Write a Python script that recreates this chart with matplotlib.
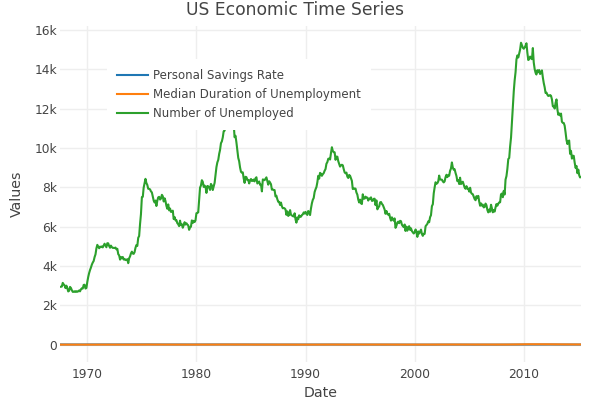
import numpy as np
import pandas as pd
import matplotlib
matplotlib.use("Agg")
import matplotlib.pyplot as plt
from matplotlib.ticker import FuncFormatter, FixedLocator
import matplotlib.dates as mdates

plt.rcParams['font.family'] = ['DejaVu Sans']

# ---------------- data ----------------
unemploy = [
    2944, 2945, 2958, 3143, 3066, 3018,
    2878, 3001, 2877, 2709, 2740, 2938, 2883, 2768, 2686, 2689, 2715, 2685,
    2718, 2692, 2712, 2758, 2713, 2816, 2868, 2856, 3040, 3049, 2856, 2884,
    3201, 3453, 3635, 3797, 3919, 4071, 4175, 4256, 4456, 4591, 4898, 5076,
    4986, 4903, 4987, 4959, 4996, 4949, 5035, 5134, 5042, 4954, 5161, 5154,
    5019, 4928, 5038, 4959, 4922, 4923, 4913, 4939, 4849, 4875, 4602, 4543,
    4326, 4452, 4394, 4459, 4329, 4363, 4305, 4305, 4350, 4144, 4396, 4489,
    4644, 4731, 4634, 4618, 4705, 4927, 5063, 5022, 5437, 5523, 6140, 6636,
    7501, 7520, 7978, 8210, 8433, 8220, 8127, 7928, 7923, 7897, 7794, 7744,
    7534, 7326, 7230, 7330, 7053, 7322, 7490, 7518, 7380, 7430, 7620, 7545,
    7280, 7443, 7307, 7059, 6911, 7134, 6829, 6925, 6751, 6763, 6815, 6386,
    6489, 6318, 6337, 6180, 6127, 6028, 6309, 6080, 6125, 5947, 6077, 6228,
    6109, 6173, 6109, 6069, 5840, 5959, 5996, 6320, 6190, 6296, 6238, 6325,
    6683, 6702, 6729, 7358, 7984, 8098, 8363, 8281, 8021, 8088, 8023, 7718,
    8071, 8051, 7982, 7869, 8174, 8098, 7863, 8036, 8230, 8646, 9029, 9267,
    9397, 9705, 9895, 10244, 10335, 10538, 10849, 10881, 11217, 11529, 11938, 12051,
    11534, 11545, 11408, 11268, 11154, 11246, 10548, 10623, 10282, 9887, 9499, 9331,
    9008, 8791, 8746, 8762, 8456, 8226, 8537, 8519, 8367, 8381, 8198, 8358,
    8423, 8321, 8339, 8395, 8302, 8460, 8513, 8196, 8248, 8298, 8128, 8138,
    7795, 8402, 8383, 8364, 8439, 8508, 8319, 8135, 8310, 8243, 8159, 7883,
    7892, 7865, 7862, 7542, 7574, 7398, 7268, 7261, 7102, 7227, 7035, 6936,
    6953, 6929, 6876, 6601, 6779, 6546, 6605, 6843, 6604, 6568, 6537, 6518,
    6682, 6359, 6205, 6468, 6375, 6577, 6495, 6511, 6590, 6630, 6725, 6667,
    6752, 6651, 6598, 6797, 6742, 6590, 6922, 7188, 7368, 7459, 7764, 7901,
    8015, 8265, 8586, 8439, 8736, 8692, 8586, 8666, 8722, 8842, 8931, 9198,
    9283, 9454, 9460, 9415, 9744, 10040, 9850, 9787, 9781, 9398, 9565, 9557,
    9325, 9183, 9056, 9110, 9149, 9121, 8930, 8763, 8714, 8750, 8542, 8477,
    8630, 8583, 8470, 8331, 7915, 7927, 7946, 7933, 7734, 7632, 7375, 7230,
    7375, 7187, 7153, 7645, 7430, 7427, 7527, 7484, 7478, 7328, 7426, 7423,
    7491, 7313, 7318, 7415, 7423, 7095, 7337, 6882, 6979, 7031, 7236, 7253,
    7158, 7102, 7000, 6873, 6655, 6799, 6655, 6608, 6656, 6454, 6308, 6476,
    6368, 6306, 6422, 5941, 6047, 6212, 6259, 6179, 6300, 6280, 6100, 6032,
    5976, 6111, 5783, 6004, 5796, 5951, 6025, 5838, 5915, 5778, 5716, 5653,
    5708, 5858, 5733, 5481, 5758, 5651, 5747, 5853, 5625, 5534, 5639, 5634,
    6023, 6089, 6141, 6271, 6226, 6484, 6583, 7042, 7142, 7694, 8003, 8258,
    8182, 8215, 8304, 8599, 8399, 8393, 8390, 8304, 8251, 8307, 8520, 8640,
    8520, 8618, 8588, 8842, 8957, 9266, 9011, 8896, 8921, 8732, 8576, 8317,
    8370, 8167, 8491, 8170, 8212, 8286, 8136, 7990, 7927, 8061, 7932, 7934,
    7784, 7980, 7737, 7672, 7651, 7524, 7406, 7345, 7553, 7453, 7566, 7279,
    7064, 7184, 7072, 7120, 6980, 7001, 7175, 7091, 6847, 6727, 6872, 6762,
    7116, 6927, 6731, 6850, 6766, 6979, 7149, 7067, 7170, 7237, 7240, 7645,
    7685, 7497, 7822, 7637, 8395, 8575, 8937, 9438, 9494, 10074, 10538, 11286,
    12058, 12898, 13426, 13853, 14499, 14707, 14601, 14814, 15009, 15352, 15219, 15098,
    15046, 15113, 15202, 15325, 14849, 14474, 14512, 14648, 14579, 14516, 15081, 14348,
    14013, 13820, 13737, 13957, 13855, 13962, 13763, 13818, 13948, 13594, 13302, 13093,
    12797, 12813, 12713, 12646, 12660, 12692, 12656, 12471, 12115, 12124, 12005, 12298,
    12471, 11950, 11689, 11760, 11654, 11751, 11335, 11279, 11270, 11136, 10787, 10404,
    10202, 10349, 10380, 9702, 9859, 9460, 9608, 9599, 9262, 8990, 9090, 8717,
    8903, 8610, 8504, 8526,
]
unemploy_dates = pd.date_range("1967-07-01", periods=len(unemploy), freq="MS")

annual_dates = [f"{y}-07-01" for y in range(1967, 2015)] + ["2015-04-01"]
psavert = [12.6, 11.3, 11.1, 12.7, 13.2, 12.1, 13.5, 13.3, 14.1, 11.7, 10.8, 10.7,
           10.0, 10.5, 11.3, 11.6, 9.4, 10.8, 9.2, 8.6, 7.4, 7.8, 7.8, 8.0, 8.4,
           8.9, 7.1, 6.4, 6.5, 5.8, 5.5, 6.1, 4.3, 4.2, 4.3, 5.5, 5.4, 5.2, 3.0,
           3.8, 3.6, 5.0, 6.1, 6.5, 7.0, 8.9, 6.4, 7.5, 7.6]
uempmed = [4.5, 4.4, 4.4, 4.6, 6.6, 6.2, 5.2, 5.3, 8.6, 8.2, 7.0, 5.9, 5.4, 6.6,
           7.2, 8.7, 10.1, 7.9, 6.9, 6.9, 6.5, 5.9, 4.8, 5.3, 6.8, 8.8, 8.3, 9.2,
           8.3, 8.3, 8.0, 6.7, 6.4, 5.9, 6.8, 9.1, 10.1, 9.0, 8.9, 8.3, 8.3, 9.2,
           15.4, 22.1, 21.4, 19.2, 16.1, 13.4, 11.7]

series_names = ["Personal Savings Rate", "Median Duration of Unemployment", "Number of Unemployed"]
series_colors = ["#1f77b4", "#ff7f0e", "#2ca02c"]
y_ticks = [0, 2000, 4000, 6000, 8000, 10000, 12000, 14000, 16000]
x_tick_years = [1970, 1980, 1990, 2000, 2010]

# ---------------- figure ----------------
W, H = 589, 399
fig = plt.figure(figsize=(W / 100, H / 100), dpi=100)
L, R, T, B = 60, 581, 26, 361.5
ax = fig.add_axes([L / W, 1 - B / H, (R - L) / W, (B - T) / H])

lw = 1.5
ad = pd.to_datetime(annual_dates)
ax.plot(ad, psavert, color=series_colors[0], lw=lw, label=series_names[0], zorder=3)
ax.plot(ad, uempmed, color=series_colors[1], lw=lw, label=series_names[1], zorder=4)
ax.plot(unemploy_dates, unemploy, color=series_colors[2], lw=lw, label=series_names[2],
        zorder=5)

ax.set_xlim(pd.Timestamp("1967-07-01"), pd.Timestamp("2015-04-01"))
ax.set_ylim(-854, 16203)

for s in ax.spines.values():
    s.set_visible(False)

ax.yaxis.set_major_locator(FixedLocator(y_ticks))
ax.yaxis.set_major_formatter(FuncFormatter(lambda v, p: "0" if v == 0 else f"{int(v/1000)}k"))
ax.xaxis.set_major_locator(FixedLocator([mdates.date2num(pd.Timestamp(f"{y}-01-01")) for y in x_tick_years]))
ax.xaxis.set_major_formatter(FuncFormatter(lambda v, p: str(mdates.num2date(v).year)))

ax.grid(True, color="#eeeeee", lw=1, zorder=0)
ax.set_axisbelow(True)
ax.tick_params(length=0, colors="#444444", labelsize=8.8)
ax.tick_params(axis="y", pad=2)
ax.tick_params(axis="x", pad=5)

ax.set_xlabel("Date", fontsize=10.2, color="#444444", labelpad=3)
ax.set_ylabel("Values", fontsize=10.2, color="#444444", labelpad=8)

fig.text(0.5, 1 - 10 / H, "US Economic Time Series", ha="center", va="center",
         fontsize=12.3, color="#444444")

leg = ax.legend(loc="upper left", bbox_to_anchor=((107 - L) / (R - L), 1 - (59 - T) / (B - T)),
                frameon=True, fancybox=False, facecolor="white", edgecolor="none",
                framealpha=1, fontsize=8.5, handlelength=2.6, handletextpad=0.45,
                labelspacing=0.5, borderpad=0.85, borderaxespad=0)
leg.set_zorder(10)
for t in leg.get_texts():
    t.set_color("#444444")
for l in leg.get_lines():
    l.set_linewidth(1.5)

fig.savefig("out.png", dpi=100)
